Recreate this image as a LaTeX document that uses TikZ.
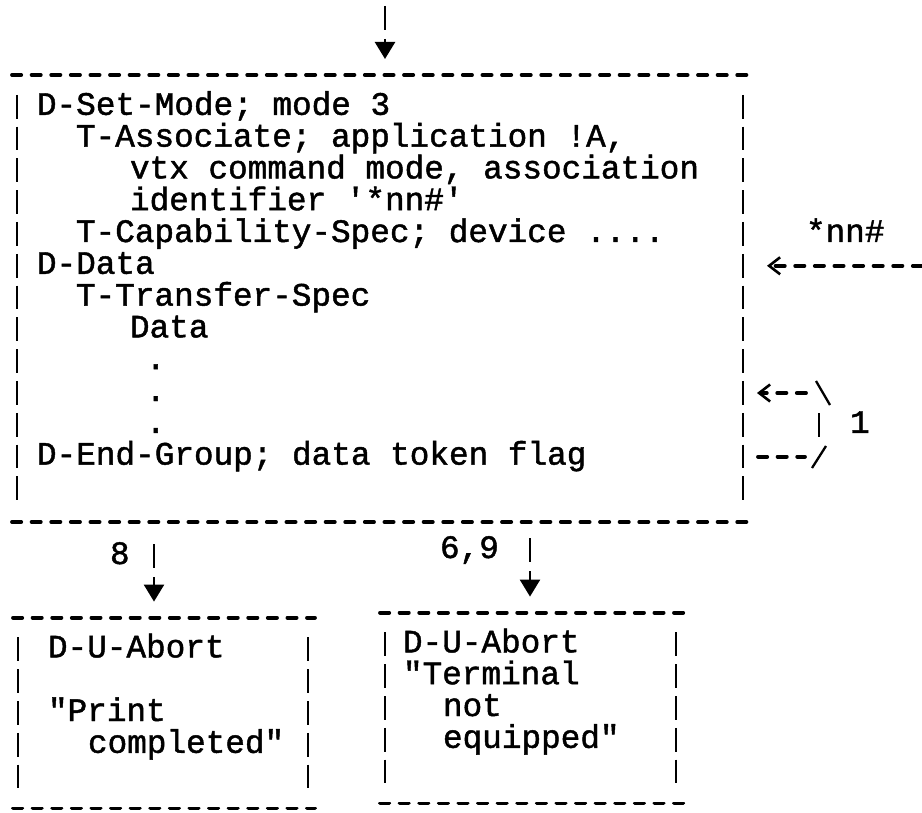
\documentclass[tikz,border=0pt]{standalone}
\usepackage{fontspec}
\newfontfamily\typewriter{Liberation Mono}[FakeBold=1.4]
\usetikzlibrary{arrows.meta}
\begin{document}
\begin{tikzpicture}[x=1pt,y=-1pt,
  dashrule/.style={line width=3.8pt, line cap=round, dash pattern=on 9.2pt off 10.4pt},
  vbars/.style={line width=2pt, dash pattern=on 23.8pt off 8pt},
  tw/.style={font=\typewriter\fontsize{32.7}{33}\selectfont, anchor=base west, inner sep=0pt, outer sep=0pt},
  boxarea/.style={inner sep=0pt, outer sep=0pt, draw=none},
  stemstroke/.style={line width=2.2pt},
  flowarrow/.style={line width=2.4pt, shorten >=16pt,
    -{Triangle[length=17pt,width=20pt]}},
  inarrow/.style={dashrule, -{Straight Barb[length=11pt,width=17pt,line width=2.6pt]}},
  asciistroke/.style={line width=2.3pt},
]
\useasboundingbox (0,0) rectangle (922,813);
\fill[white] (0,0) rectangle (922,813);

% ---- main record box ----
\node[boxarea, minimum width=740pt, minimum height=447pt] (main) at (382,298.5) {};
\draw[dashrule] (main.north west) -- (main.north east);
\draw[dashrule] (main.south west) -- (main.south east);
\draw[vbars] ([xshift=5pt,yshift=-19.8pt]main.north west) -- ([xshift=5pt,yshift=21.6pt]main.south west);
\draw[vbars] ([xshift=-9pt,yshift=-19.8pt]main.north east) -- ([xshift=-9pt,yshift=21.6pt]main.south east);

\node[tw] (l1)  at (37,114.8) {D-Set-Mode; mode 3};
\node[tw] (l2)  at (76,146.6) {T-Associate; application !A,};
\node[tw] (l3)  at (130,178.4) {vtx command mode, association};
\node[tw] (l4)  at (130,210.2) {identifier \textquotesingle*nn\#\textquotesingle};
\node[tw] (l5)  at (76,242) {T-Capability-Spec; device ....};
\node[tw] (l6)  at (37,273.8) {D-Data};
\node[tw] (l7)  at (76,305.6) {T-Transfer-Spec};
\node[tw] (l8)  at (130,337.4) {Data};
\node[tw] (l9)  at (146,369.2) {.};
\node[tw] (l10) at (146,401) {.};
\node[tw] (l11) at (146,432.8) {.};
\node[tw] (l12) at (37,464.6) {D-End-Group; data token flag};

% ---- incoming flow from above ----
\coordinate (feed) at (385,6);
\coordinate (feedgap) at (385,39);
\draw[stemstroke] (feed) -- (385,30);
\draw[flowarrow] (feedgap) -- (feedgap |- main.north);

% ---- identifier arriving from the right ----
\node[tw] (nnlabel) at (806,242) {*nn\#};
\coordinate (src) at (922,265.8);
\draw[inarrow, shorten >=15pt] (src) -- (main.east |- src);

% ---- repeat loop, event 1 ----
\coordinate (r10) at (0,393);
\coordinate (r12) at (0,456.6);
\coordinate (lpA) at (805,456.6);
\coordinate (lpB) at (812,468);
\coordinate (lpC) at (826,446);
\coordinate (lpD) at (819,413);
\coordinate (lpE) at (819,437);
\coordinate (lpF) at (816,381);
\coordinate (lpG) at (830,405);
\coordinate (lpH) at (806,393);
\draw[dashrule, shorten <=6pt] (main.east |- r12) -- (lpA);
\draw[asciistroke] (lpB) -- (lpC);
\draw[asciistroke] (lpD) -- (lpE);
\draw[asciistroke] (lpF) -- (lpG);
\draw[inarrow, shorten >=5pt] (lpH) -- (main.east |- r10);
\node[tw] (looplabel) at (850,432.8) {1};

% ---- abort, print completed ----
\node[boxarea, minimum width=302pt, minimum height=190.8pt] (abortA) at (164,713) {};
\draw[dashrule] (abortA.north west) -- (abortA.north east);
\draw[dashrule] (abortA.south west) -- (abortA.south east);
\draw[vbars] ([xshift=5pt,yshift=-19.8pt]abortA.north west) -- ([xshift=5pt,yshift=19.8pt]abortA.south west);
\draw[vbars] ([xshift=-7pt,yshift=-19.8pt]abortA.north east) -- ([xshift=-7pt,yshift=19.8pt]abortA.south east);
\node[tw] (a1) at (48,657.4) {D-U-Abort};
\node[tw] (a2) at (48,721) {"Print};
\node[tw] (a3) at (88,752.8) {completed"};

\node[tw] (lab8) at (110,564) {8};
\coordinate (outA) at (154,544);
\coordinate (outAgap) at (154,577);
\draw[stemstroke] (outA) -- (154,568);
\draw[flowarrow] (outAgap) -- (outAgap |- abortA.north);

% ---- abort, terminal not equipped ----
\node[boxarea, minimum width=308pt, minimum height=190.8pt] (abortB) at (534,708) {};
\draw[dashrule] (abortB.north west) -- (abortB.north east);
\draw[dashrule] (abortB.south west) -- (abortB.south east);
\draw[vbars] ([xshift=5pt,yshift=-19.8pt]abortB.north west) -- ([xshift=5pt,yshift=19.8pt]abortB.south west);
\draw[vbars] ([xshift=-12pt,yshift=-19.8pt]abortB.north east) -- ([xshift=-12pt,yshift=19.8pt]abortB.south east);
\node[tw] (b1) at (403,652.4) {D-U-Abort};
\node[tw] (b2) at (403,684.2) {"Terminal};
\node[tw] (b3) at (443,716) {not};
\node[tw] (b4) at (443,747.8) {equipped"};

\node[tw] (lab69) at (440,558) {6,9};
\coordinate (outB) at (530,538);
\coordinate (outBgap) at (530,571);
\draw[stemstroke] (outB) -- (530,562);
\draw[flowarrow] (outBgap) -- (outBgap |- abortB.north);
\end{tikzpicture}
\end{document}
